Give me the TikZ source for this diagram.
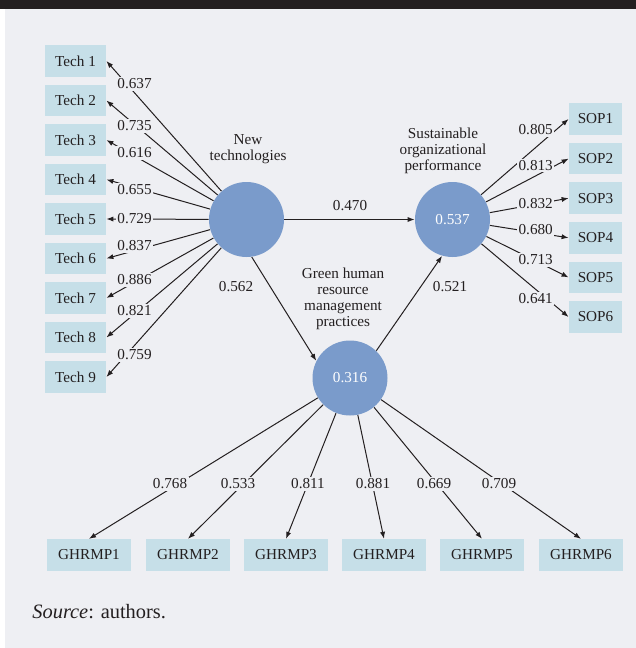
\documentclass[tikz,border=0pt]{standalone}
\usepackage{fontspec}
\setmainfont{Liberation Serif}
\usetikzlibrary{arrows.meta}
\definecolor{panel}{HTML}{EEEFF3}
\definecolor{boxblue}{HTML}{C6DFE8}
\definecolor{latent}{HTML}{7A9BCB}
\definecolor{ink}{HTML}{231F20}
\begin{document}
\begin{tikzpicture}[x=0.5pt,y=-0.5pt,
  every node/.style={text=ink},
  base/.style={font=\fontsize{7.6}{8}\selectfont},
  indicator/.style={base, fill=boxblue, minimum height=15.75pt, inner sep=0pt},
  techbox/.style={indicator, minimum width=30.5pt},
  sopbox/.style={indicator, minimum width=26.5pt},
  ghbox/.style={indicator, minimum width=41.8pt},
  latentvar/.style={base, circle, fill=latent, minimum size=37.5pt, inner sep=0pt, text=white},
  latentname/.style={base, align=center, inner sep=0pt},
  link/.style={draw=ink, line width=0.5pt, -{Latex[length=3.5pt,width=2.6pt]}},
  coef/.style={base, fill=panel, inner sep=0.8pt}]

% page, panel and top rule
\useasboundingbox (0,0) rectangle (636,648);
\fill[white] (0,0) rectangle (636,648);
\fill[panel] (5,9) rectangle (636,648);
\fill[ink] (0,0) rectangle (636,9);

% latent variables
\node[latentvar] (nt) at (246.5,219.5) {};
\node[latentvar] (sop) at (452.5,219.5) {0.537};
\node[latentvar] (gh) at (350,378) {0.316};

\node[latentname] (ntname) at (248,149.5) {New\\technologies};
\node[latentname] (sopname) at (443,150.5) {Sustainable\\organizational\\performance};
\node[latentname] (ghname) at (343,299) {Green human\\resource\\management\\practices};

% indicators
\foreach \i/\y in {1/61,2/100.5,3/140,4/179.5,5/219,6/258.5,7/298,8/337.5,9/377}
  \node[techbox] (t\i) at (75.5,\y) {Tech \i};
\foreach \i/\y in {1/119,2/158.6,3/198.2,4/237.8,5/277.4,6/317}
  \node[sopbox] (s\i) at (595.5,\y) {SOP\i};
\foreach \i/\x in {1/89,2/188,3/286,4/384,5/482,6/581}
  \node[ghbox] (g\i) at (\x,555) {GHRMP\i};

% loadings
\foreach \i in {1,...,9} \draw[link] (nt) -- (t\i.east);
\foreach \i in {1,...,6} \draw[link] (sop) -- (s\i.west);
\foreach \i in {1,...,6} \draw[link] (gh) -- (g\i.north);

% structural paths
\draw[link] (nt) -- (sop);
\draw[link] (nt.-82) -- (gh.153);
\draw[link] (gh.46) -- (sop.254);

% coefficients
\foreach \i/\y/\v in {1/84/0.637,2/126/0.735,3/153/0.616,4/190/0.655,5/219/0.729,
                      6/246/0.837,7/280/0.886,8/311/0.821,9/355/0.759}
  \node[coef] (ct\i) at (134.5,\y) {\v};
\foreach \i/\y/\v in {1/130/0.805,2/165.7/0.813,3/203.3/0.832,4/230/0.680,5/260/0.713,6/298.3/0.641}
  \node[coef] (cs\i) at (535.7,\y) {\v};
\foreach \i/\x/\v in {1/170/0.768,2/238/0.533,3/308/0.811,4/373/0.881,5/434/0.669,6/499/0.709}
  \node[coef] (cg\i) at (\x,484) {\v};
\node[coef] (c1) at (350,205.7) {0.470};
\node[coef] (c2) at (236,287) {0.562};
\node[coef] (c3) at (450,287) {0.521};

% note
\node[anchor=west, inner sep=0pt, font=\fontsize{10.2}{12}\selectfont] (src) at (32,612) {\textit{Source}: authors.};
\end{tikzpicture}
\end{document}
